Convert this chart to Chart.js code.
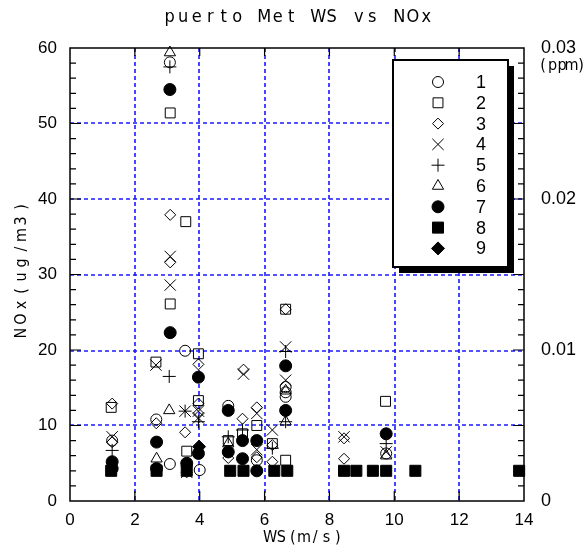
<!DOCTYPE html>
<html>
<head>
<meta charset="utf-8">
<script src="https://cdn.jsdelivr.net/npm/chart.js@4.4.0/dist/chart.umd.min.js"></script>
<style>
  html, body { margin: 0; padding: 0; background: #fff; }
  #wrap { width: 586px; height: 555px; }
</style>
</head>
<body>
<div id="wrap"><canvas id="c" width="586" height="555"></canvas></div>
<script>
// series names (legend)
var names = ['1', '2', '3', '4', '5', '6', '7', '8', '9'];

// [WS (m/s), NOx (ug/m3)]
var s1 = [[3.08,58.1],[3.55,19.9],[2.66,10.8],[4.88,12.6],[1.3,8.0],[3.08,4.9],[4.0,4.1],[5.76,5.4],[6.65,15.1],[6.65,13.8],[6.65,14.4],[9.75,6.3]];
var s2 = [[3.09,51.4],[3.57,37.0],[3.09,26.1],[2.65,18.4],[3.96,19.5],[1.27,12.4],[3.96,13.3],[3.6,6.6],[5.32,8.9],[4.88,8.0],[5.76,10.0],[6.24,7.6],[6.65,5.4],[6.65,25.4],[9.73,13.2]];
var s3 = [[3.09,37.9],[3.09,31.6],[3.96,18.1],[5.35,17.4],[1.3,12.9],[2.66,10.3],[3.96,12.9],[3.96,11.6],[3.55,9.1],[5.32,10.9],[5.76,12.4],[4.88,5.7],[5.76,5.8],[6.24,7.4],[6.24,5.2],[6.65,25.4],[8.45,8.3],[8.45,5.6],[1.3,7.8],[3.6,3.8]];
var s4 = [[3.09,32.4],[3.09,28.6],[2.65,18.0],[5.35,16.8],[3.55,11.9],[3.96,11.9],[3.96,11.0],[1.3,8.5],[5.76,11.6],[5.76,6.8],[6.24,9.4],[6.65,20.4],[6.65,16.0],[8.45,8.5],[9.75,6.5],[3.6,3.8]];
var s5 = [[3.08,57.5],[3.06,16.5],[3.55,11.9],[3.96,10.5],[1.3,6.7],[4.88,8.5],[5.32,9.4],[6.24,7.0],[6.65,19.8],[6.65,10.5],[9.75,7.6]];
var s6 = [[3.08,59.4],[3.06,12.0],[2.67,5.6],[4.88,7.6],[6.65,14.6],[6.65,10.5],[9.75,6.0]];
var s7 = [[3.08,54.5],[3.09,22.3],[3.96,16.4],[6.65,17.9],[4.88,12.0],[6.65,12.0],[2.67,7.8],[1.3,5.2],[1.3,4.3],[2.67,4.3],[3.6,5.0],[4.88,6.5],[5.32,8.0],[5.32,5.6],[5.76,8.0],[5.76,4.0],[9.75,8.9],[3.96,6.3]];
var s8 = [[1.27,4],[2.67,4],[3.6,4],[4.94,4],[5.35,4],[6.3,4],[6.7,4],[8.45,4],[8.83,4],[9.34,4],[9.75,4],[10.65,4],[13.85,4]];
var s9 = [[3.98,7.2]];

var allSeries = [s1, s2, s3, s4, s5, s6, s7, s8, s9];

// marker look per series
var marks = [
  {style:'circle',   fill:false, r:5.5},
  {style:'rect',     fill:false, r:7},
  {style:'rectRot',  fill:false, r:5.5},
  {style:'crossRot', fill:false, r:8},
  {style:'cross',    fill:false, r:6.5},
  {style:'triangle', fill:false, r:6.5},
  {style:'circle',   fill:true,  r:6},
  {style:'rect',     fill:true,  r:7.8},
  {style:'rectRot',  fill:true,  r:6.5}
];

var datasets = allSeries.map(function(s, i){
  var m = marks[i];
  return {
    label: names[i],
    data: s.map(function(p){ return {x:p[0], y:p[1]}; }),
    pointStyle: m.style,
    pointRadius: m.r,
    pointHoverRadius: m.r,
    borderColor: '#000',
    backgroundColor: m.fill ? '#000' : 'rgba(0,0,0,0)',
    borderWidth: 1,
    showLine: false,
    clip: false
  };
});

var spacedFont = '"Liberation Sans Narrow", "DejaVu Sans Condensed", "Liberation Sans", sans-serif';
var tickFont = { size: 17, family: '"Liberation Sans", Arial, sans-serif' };

function spaced(ctx, text, cx, cy, step){
  var x0 = cx - step * (text.length - 1) / 2;
  for (var i = 0; i < text.length; i++) {
    ctx.fillText(text[i], x0 + i * step, cy);
  }
}

// snap to the middle of an even pixel pair so the thin blue stays blue
function snap(p){ return Math.floor(p / 2) * 2 + 1; }

var deco = {
  id: 'deco',
  beforeDatasetsDraw: function(chart){
    var ctx = chart.ctx, a = chart.chartArea;
    var x = chart.scales.x, y = chart.scales.y;
    ctx.save();
    // blue dotted grid
    ctx.strokeStyle = '#1a1aff';
    ctx.lineWidth = 1.6;
    ctx.setLineDash([4, 3]);
    ctx.beginPath();
    x.ticks.forEach(function(t){
      if (t.value <= 0 || t.value >= 14) return;
      var px = snap(x.getPixelForValue(t.value));
      ctx.moveTo(px, a.top); ctx.lineTo(px, a.bottom);
    });
    y.ticks.forEach(function(t){
      if (t.value <= 0 || t.value >= 60) return;
      var py = snap(y.getPixelForValue(t.value));
      ctx.moveTo(a.left, py); ctx.lineTo(a.right, py);
    });
    ctx.stroke();
    ctx.setLineDash([]);
    // frame and inward ticks
    ctx.strokeStyle = '#000';
    ctx.lineWidth = 1.5;
    ctx.strokeRect(a.left, a.top, a.right - a.left, a.bottom - a.top);
    ctx.lineWidth = 1.2;
    ctx.beginPath();
    for (var v = 2; v < 60; v += 2) {
      var py2 = y.getPixelForValue(v);
      var len = (v % 10 === 0) ? 11 : 6;
      ctx.moveTo(a.left, py2); ctx.lineTo(a.left + len, py2);
      ctx.moveTo(a.right, py2); ctx.lineTo(a.right - len, py2);
    }
    for (var w = 2; w < 14; w += 2) {
      var px2 = x.getPixelForValue(w);
      ctx.moveTo(px2, a.bottom); ctx.lineTo(px2, a.bottom - 10);
      ctx.moveTo(px2, a.top); ctx.lineTo(px2, a.top + 8);
    }
    ctx.stroke();
    ctx.restore();
  },
  afterDraw: function(chart){
    var ctx = chart.ctx;
    ctx.save();
    ctx.fillStyle = '#000';
    ctx.textAlign = 'center';
    ctx.textBaseline = 'middle';
    ctx.font = '18px ' + spacedFont;
    spaced(ctx, 'puerto Met WS vs NOx', 298, 17, 13.5);
    ctx.font = '16px ' + spacedFont;
    spaced(ctx, 'WS(m/s)', 304, 538, 11.3);
    ctx.save();
    ctx.translate(22, 270);
    ctx.rotate(-Math.PI / 2);
    spaced(ctx, 'NOx(ug/m3)', 0, 0, 14);
    ctx.restore();
    ctx.font = '16px ' + spacedFont;
    spaced(ctx, '(ppm)', 562, 66, 9.5);

    // legend box
    var bx = 393, by = 60, bw = 115, bh = 207;
    ctx.fillStyle = '#000';
    ctx.fillRect(bx + 6, by + 6, bw, bh);
    ctx.fillStyle = '#fff';
    ctx.fillRect(bx, by, bw, bh);
    ctx.strokeStyle = '#000';
    ctx.lineWidth = 2;
    ctx.strokeRect(bx, by, bw, bh);
    ctx.font = '18px "Liberation Sans", Arial, sans-serif';
    for (var i = 0; i < names.length; i++) {
      var ry = 82 + i * 20.8;
      var m = marks[i];
      ctx.fillStyle = m.fill ? '#000' : 'rgba(0,0,0,0)';
      ctx.strokeStyle = '#000';
      ctx.lineWidth = 1;
      Chart.helpers.drawPoint(ctx, {pointStyle: m.style, radius: m.r, rotation: 0, borderWidth: 1}, 438, ry);
      ctx.fillStyle = '#000';
      ctx.fillText(names[i], 481, ry + 1);
    }
    ctx.restore();
  }
};

new Chart(document.getElementById('c'), {
  type: 'scatter',
  data: { datasets: datasets },
  options: {
    responsive: false,
    animation: false,
    layout: { padding: { top: 48, left: 0, right: 0, bottom: 0 } },
    plugins: { legend: { display: false }, tooltip: { enabled: false }, title: { display: false } },
    scales: {
      x: {
        type: 'linear', min: 0, max: 14,
        ticks: { stepSize: 2, padding: 9, color: '#000', font: tickFont },
        grid: { display: false, drawTicks: false },
        border: { display: false },
        afterFit: function(s){ s.height = 54; }
      },
      y: {
        type: 'linear', min: 0, max: 60,
        ticks: { stepSize: 10, padding: 13, color: '#000', font: tickFont },
        grid: { display: false, drawTicks: false },
        border: { display: false },
        afterFit: function(s){ s.width = 70; }
      },
      y2: {
        type: 'linear', position: 'right', min: 0, max: 0.03,
        ticks: { stepSize: 0.01, padding: 17, color: '#000', font: { size: 18, family: '"Liberation Sans", Arial, sans-serif' } },
        grid: { display: false, drawTicks: false },
        border: { display: false },
        afterFit: function(s){ s.width = 62; }
      }
    }
  },
  plugins: [deco]
});
</script>
</body>
</html>
